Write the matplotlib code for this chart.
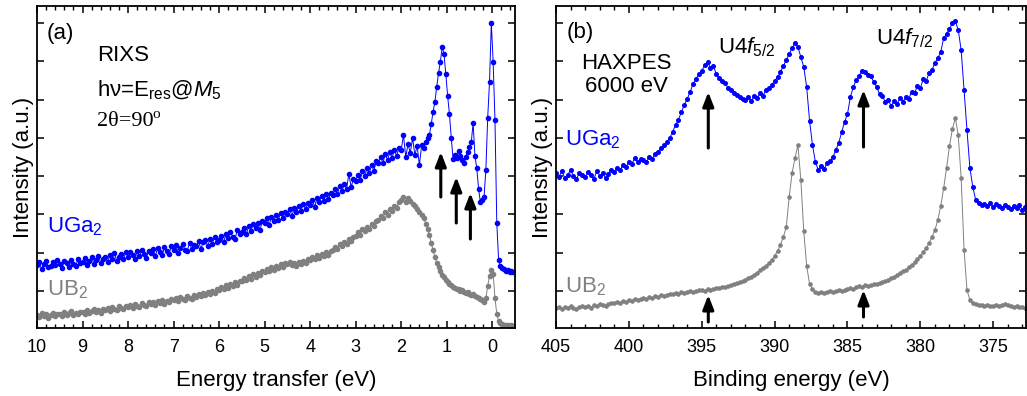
import numpy as np
import matplotlib
matplotlib.use("Agg")
from matplotlib import pyplot as plt
from matplotlib.ticker import MultipleLocator

plt.rcParams['font.family'] = ['Liberation Sans', 'DejaVu Sans']
plt.rcParams['mathtext.fontset'] = 'custom'
plt.rcParams['mathtext.rm'] = 'Liberation Sans'
plt.rcParams['mathtext.it'] = 'Liberation Sans:italic'

# ---- (a) RIXS: energy grid (coarse part 10 -> 1.5 eV, fine part 1.46 -> -0.5 eV)
rixs_e_coarse = np.linspace(10.0, 1.5, 171)
rixs_e_fine = np.linspace(1.46, -0.5, 50)

rixs_uga2_coarse = [
    63, 66, 59, 64, 67, 61, 62, 66, 63, 68,
    64, 60, 67, 65, 61, 68, 64, 62, 69, 65,
    66, 70, 63, 67, 71, 64, 68, 72, 65, 69,
    71, 66, 73, 69, 75, 67, 71, 74, 69, 76,
    71, 76, 73, 69, 77, 72, 78, 74, 70, 77,
    75, 79, 72, 80, 76, 73, 81, 77, 74, 82,
    78, 83, 75, 80, 84, 78, 77, 85, 79, 83,
    82, 87, 79, 86, 88, 82, 89, 84, 91, 86,
    88, 92, 86, 94, 90, 96, 91, 89, 98, 94,
    96, 100, 94, 102, 97, 104, 100, 105, 98, 107,
    105, 110, 103, 111, 107, 113, 108, 115, 110, 116,
    114, 119, 112, 120, 116, 122, 117, 124, 119, 125,
    123, 128, 121, 130, 126, 132, 127, 134, 129, 135,
    133, 139, 134, 142, 137, 144, 139, 154, 141, 149,
    147, 153, 148, 157, 152, 160, 155, 163, 157, 167,
    165, 171, 165, 174, 168, 176, 170, 178, 172, 180,
    178, 193, 171, 184, 175, 190, 173, 182, 163, 183,
    180]
rixs_uga2_fine = [
    186, 190, 193, 204, 216, 226, 241, 255, 266, 281,
    274, 254, 232, 214, 190, 169, 173, 170, 177, 172,
    168, 165, 171, 176, 181, 186, 205, 172, 160, 139,
    126, 128, 131, 158, 210, 246, 305, 266, 208, 105,
    68, 62, 60, 59, 57, 58, 56, 57, 56, 56]

rixs_ub2_coarse = [
    13, 11, 15, 12, 14, 10, 13, 15, 12, 14,
    14, 12, 16, 13, 15, 17, 13, 15, 14, 16,
    16, 14, 18, 15, 17, 19, 16, 18, 15, 19,
    18, 20, 17, 21, 19, 18, 22, 20, 19, 22,
    21, 23, 20, 24, 22, 21, 25, 23, 22, 26,
    24, 26, 23, 27, 25, 28, 24, 27, 26, 29,
    28, 30, 27, 31, 29, 28, 32, 30, 29, 33,
    31, 34, 32, 35, 33, 36, 34, 37, 35, 39,
    38, 41, 39, 43, 40, 44, 42, 46, 43, 47,
    47, 50, 48, 52, 49, 54, 51, 55, 53, 57,
    56, 59, 57, 61, 58, 62, 60, 64, 61, 65,
    64, 66, 63, 65, 62, 66, 64, 67, 65, 69,
    68, 71, 69, 73, 70, 74, 72, 76, 73, 77,
    78, 81, 79, 84, 82, 86, 84, 89, 87, 91,
    92, 96, 93, 99, 97, 101, 99, 104, 102, 107,
    108, 112, 110, 116, 113, 119, 117, 122, 120, 126,
    128, 131, 126, 130, 127, 124, 122, 119, 116, 113,
    110]
rixs_ub2_fine = [
    104, 99, 93, 85, 78, 71, 65, 61, 57, 53,
    51, 48, 46, 44, 43, 41, 40, 39, 39, 37,
    38, 36, 35, 36, 34, 33, 34, 32, 31, 30,
    29, 28, 26, 30, 42, 52, 58, 54, 30, 14,
    7, 5, 4, 3, 3, 3, 2, 3, 2, 2]

# ---- (b) HAXPES: binding energy grid 405 -> 372.8 eV
hax_be = np.linspace(405.0, 372.8, 162)
hax_uga2 = [
    155, 151, 157, 150, 153, 158, 152, 149, 155, 153,
    151, 156, 153, 149, 157, 152, 155, 150, 154, 158,
    156, 160, 158, 163, 161, 166, 164, 170, 166, 169,
    168, 166, 171, 169, 174, 176, 180, 183, 186, 190,
    196, 203, 208, 216, 223, 229, 236, 244, 249, 254,
    257, 263, 266, 260, 262, 254, 250, 247, 245, 240,
    238, 235, 233, 231, 229, 228, 231, 227, 232, 230,
    235, 232, 238, 240, 243, 247, 251, 256, 262, 268,
    274, 280, 285, 281, 271, 261, 241, 207, 183, 166,
    158, 162, 159, 165, 167, 171, 178, 185, 196, 206,
    214, 231, 241, 248, 252, 257, 256, 253, 252, 246,
    241, 234, 232, 226, 228, 222, 227, 224, 230, 226,
    231, 229, 236, 235, 242, 240, 249, 247, 255, 258,
    265, 270, 276, 290, 294, 299, 305, 307, 298, 278,
    238, 198, 160, 141, 128, 125, 123, 124, 122, 125,
    121, 124, 122, 120, 123, 121, 119, 122, 120, 123,
    118, 121]
hax_ub2 = [
    20, 21, 19, 21, 20, 22, 20, 19, 21, 22,
    21, 22, 20, 23, 22, 24, 23, 22, 24, 25,
    25, 26, 25, 27, 26, 28, 27, 29, 28, 29,
    30, 29, 31, 30, 32, 31, 33, 32, 33, 34,
    34, 35, 34, 36, 35, 36, 37, 36, 37, 38,
    38, 37, 39, 38, 39, 40, 40, 41, 41, 42,
    43, 44, 45, 46, 47, 48, 50, 51, 53, 55,
    58, 60, 62, 65, 68, 72, 77, 83, 91, 101,
    131, 155, 170, 183, 148, 97, 62, 44, 39, 36,
    35, 36, 35, 36, 37, 36, 37, 38, 37, 38,
    39, 40, 39, 41, 42, 41, 43, 42, 43, 44,
    44, 45, 46, 47, 48, 50, 51, 53, 55, 57,
    58, 61, 63, 66, 69, 72, 76, 80, 85, 91,
    98, 108, 122, 140, 160, 182, 199, 210, 193, 150,
    78, 38, 28, 25, 24, 23, 23, 22, 23, 22,
    22, 23, 22, 23, 24, 23, 22, 21, 22, 21,
    21, 20]

# arrows: x position, tail height, tip height
rixs_arrow_x = [1.13, 0.79, 0.48]
rixs_arrow_tail = [131, 105, 89]
rixs_arrow_tip = [176, 151, 135]
hax_arrow_x = [394.55, 383.9, 394.55, 383.9]
hax_arrow_tail = [180, 181, 6, 11]
hax_arrow_tip = [236, 238, 33, 38]

BLUE = '#0000ff'
GRAY = '#808080'
FS = 16

fig = plt.figure(figsize=(10.27, 3.96), dpi=100)
ax1 = fig.add_axes([37 / 1027, 68 / 396, 478 / 1027, 322 / 396])
ax2 = fig.add_axes([556 / 1027, 68 / 396, 470 / 1027, 322 / 396])

rixs_e = np.concatenate([rixs_e_coarse, rixs_e_fine])
ax1.plot(rixs_e, rixs_uga2_coarse + rixs_uga2_fine, '-o', color=BLUE, ms=3.0, lw=0.7)
ax1.plot(rixs_e, rixs_ub2_coarse + rixs_ub2_fine, '-o', color=GRAY, ms=3.0, lw=0.7)
ax2.plot(hax_be, hax_uga2, '-o', color=BLUE, ms=2.6, lw=0.7)
ax2.plot(hax_be, hax_ub2, '-o', color=GRAY, ms=2.3, lw=0.7)

arrowprops = dict(arrowstyle='-|>,head_length=0.85,head_width=0.33', color='k',
                  lw=2.2, mutation_scale=10, shrinkA=0, shrinkB=0)
for x, t0, t1 in zip(rixs_arrow_x, rixs_arrow_tail, rixs_arrow_tip):
    ax1.annotate('', xy=(x, t1), xytext=(x, t0), arrowprops=arrowprops)
for x, t0, t1 in zip(hax_arrow_x, hax_arrow_tail, hax_arrow_tip):
    ax2.annotate('', xy=(x, t1), xytext=(x, t0), arrowprops=arrowprops)

for ax in (ax1, ax2):
    ax.set_ylim(0, 322)
    ax.set_yticks(np.arange(37, 322, 38.3))
    ax.set_yticklabels([])
    ax.set_ylabel('Intensity (a.u.)', fontsize=FS, labelpad=-1)
    ax.tick_params(which='both', direction='in', top=True, right=True, labelsize=13)
    ax.tick_params(axis='x', which='major', pad=8)
    ax.tick_params(which='major', length=5, width=1.1)
    ax.tick_params(which='minor', length=3, width=1.0)
    for s in ax.spines.values():
        s.set_linewidth(1.3)

ax1.set_xlim(10, -0.5)
ax1.xaxis.set_major_locator(MultipleLocator(1))
ax1.xaxis.set_minor_locator(MultipleLocator(0.2))
ax1.set_xlabel('Energy transfer (eV)', fontsize=FS, labelpad=10)

ax2.set_xlim(405, 372.75)
ax2.xaxis.set_major_locator(MultipleLocator(5))
ax2.xaxis.set_minor_locator(MultipleLocator(1))
ax2.set_xlabel('Binding energy (eV)', fontsize=FS, labelpad=10)

# panel (a) texts
ax1.text(9.78, 295, '(a)', fontsize=FS, va='center')
ax1.text(8.68, 273, 'RIXS', fontsize=FS, va='center')
ax1.text(8.68, 238, 'h\u03bd=E$_{\\rm res}$@$M_5$', fontsize=FS, va='center')
ax1.text(8.68, 206, '2\u03b8=90', fontsize=16, va='center',
         family=['Liberation Serif', 'DejaVu Serif'])
ax1.text(7.47, 213, 'o', fontsize=11, va='center',
         family=['Liberation Serif', 'DejaVu Serif'])
ax1.text(9.78, 101, r'UGa$_2$', fontsize=FS, color=BLUE, va='center')
ax1.text(9.78, 38, r'UB$_2$', fontsize=FS, color=GRAY, va='center')

# panel (b) texts
ax2.text(404.24, 296, '(b)', fontsize=FS, va='center')
ax2.text(400.15, 265, 'HAXPES', fontsize=FS, va='center', ha='center')
ax2.text(400.2, 241, '6000 eV', fontsize=FS, va='center', ha='center')
ax2.text(393.86, 281, r'U4$f_{5/2}$', fontsize=FS, va='center')
ax2.text(383.06, 290, r'U4$f_{7/2}$', fontsize=FS, va='center')
ax2.text(404.38, 188, r'UGa$_2$', fontsize=FS, color=BLUE, va='center')
ax2.text(404.38, 41, r'UB$_2$', fontsize=FS, color=GRAY, va='center')

fig.savefig('out.png', dpi=100)
